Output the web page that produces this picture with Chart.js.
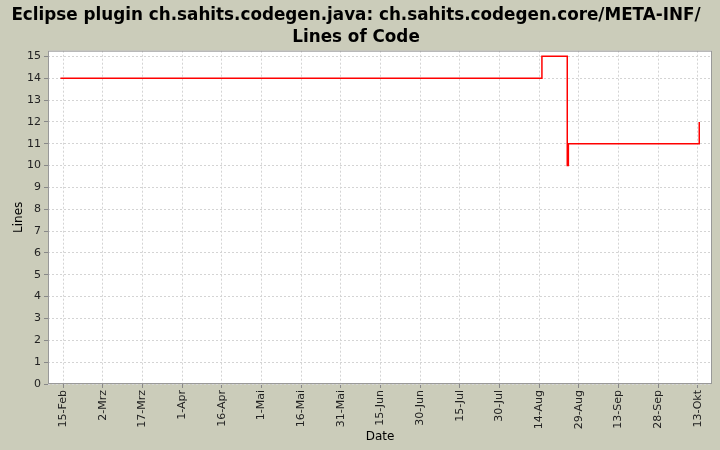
<!DOCTYPE html>
<html>
<head>
<meta charset="utf-8">
<script src="https://cdn.jsdelivr.net/npm/chart.js@4"></script>
<style>
  html, body { margin: 0; padding: 0; background: #cbccba; }
  #wrap { width: 720px; height: 450px; }
</style>
</head>
<body>
<div id="wrap"><canvas id="grafico" width="720" height="450"></canvas></div>
<script>
// Datas das mudanças (início do eixo: 15-Feb) e número de linhas
const datas = ['2010-02-14T00:00', '2010-08-15T02:00', '2010-08-24T16:00', '2010-08-25T02:00', '2010-10-13T14:00'];
const linhas = [14, 15, 10, 11, 12];

// Rótulos do eixo X (a cada 15 dias)
const rotulosX = ['15-Feb', '2-Mrz', '17-Mrz', '1-Apr', '16-Apr', '1-Mai', '16-Mai', '31-Mai',
    '15-Jun', '30-Jun', '15-Jul', '30-Jul', '14-Aug', '29-Aug', '13-Sep', '28-Sep', '13-Okt'];
const rotulosY = [0, 1, 2, 3, 4, 5, 6, 7, 8, 9, 10, 11, 12, 13, 14, 15];

const inicio = Date.parse('2010-02-15T00:00');
const umDia = 24 * 3600 * 1000;
const dias = datas.map(d => (Date.parse(d) - inicio) / umDia);
const diasTicks = rotulosX.map((_, i) => i * 15);

const pontos = dias.map((x, i) => ({ x: x, y: linhas[i] }));

// Fundo branco e moldura da área do gráfico
const moldura = {
    id: 'moldura',
    beforeDraw(chart) {
        const { ctx, chartArea: a } = chart;
        ctx.save();
        ctx.fillStyle = '#ffffff';
        ctx.fillRect(a.left, a.top, a.right - a.left, a.bottom - a.top);
        ctx.restore();
    },
    afterDraw(chart) {
        const { ctx, chartArea: a } = chart;
        ctx.save();
        ctx.strokeStyle = '#999999';
        ctx.lineWidth = 1;
        ctx.strokeRect(a.left + 0.5, a.top + 0.5, a.right - a.left - 1, a.bottom - a.top - 1);
        ctx.restore();
    }
};

const ctx = document.getElementById('grafico').getContext('2d');
new Chart(ctx, {
    type: 'line',
    data: {
        datasets: [{
            label: 'Lines',
            data: pontos,
            borderColor: '#ff0000',
            borderWidth: 1.5,
            pointRadius: 0,
            stepped: true,
            fill: false
        }]
    },
    options: {
        responsive: false,
        animation: false,
        layout: { padding: { left: 0, right: 8, top: 0, bottom: 0 } },
        plugins: {
            legend: { display: false },
            tooltip: { enabled: false },
            title: {
                display: true,
                text: ['Eclipse plugin ch.sahits.codegen.java: ch.sahits.codegen.core/META-INF/', 'Lines of Code'],
                color: '#000000',
                font: { family: 'DejaVu Sans', size: 16.8, weight: 'bold', lineHeight: 1.3 },
                padding: { top: 5, bottom: 2 }
            }
        },
        scales: {
            x: {
                type: 'linear',
                min: -5.7,
                max: 245.4,
                afterBuildTicks(scale) {
                    scale.ticks = diasTicks.map(v => ({ value: v }));
                },
                afterFit(scale) { scale.height = 66; },
                ticks: {
                    autoSkip: false,
                    minRotation: 90,
                    maxRotation: 90,
                    color: '#222222',
                    padding: 2,
                    font: { family: 'DejaVu Sans', size: 11 },
                    callback: (v, i) => rotulosX[i]
                },
                grid: {
                    color: '#d4d4d4',
                    tickColor: '#888888',
                    tickLength: 4
                },
                border: { display: false, dash: [2, 2] },
                title: {
                    display: true,
                    text: 'Date',
                    color: '#000000',
                    font: { family: 'DejaVu Sans', size: 12 },
                    padding: { top: 0, bottom: 6 }
                }
            },
            y: {
                type: 'linear',
                min: 0,
                max: 15.26,
                afterBuildTicks(scale) {
                    scale.ticks = rotulosY.map(v => ({ value: v }));
                },
                afterFit(scale) { scale.width = 48; },
                ticks: {
                    color: '#222222',
                    padding: 3,
                    font: { family: 'DejaVu Sans', size: 11 }
                },
                grid: {
                    color: '#d4d4d4',
                    tickColor: '#888888',
                    tickLength: 4
                },
                border: { display: false, dash: [2, 2] },
                title: {
                    display: true,
                    text: 'Lines',
                    color: '#000000',
                    font: { family: 'DejaVu Sans', size: 12 },
                    padding: { top: 12, bottom: 0 }
                }
            }
        }
    },
    plugins: [moldura]
});
</script>
</body>
</html>
